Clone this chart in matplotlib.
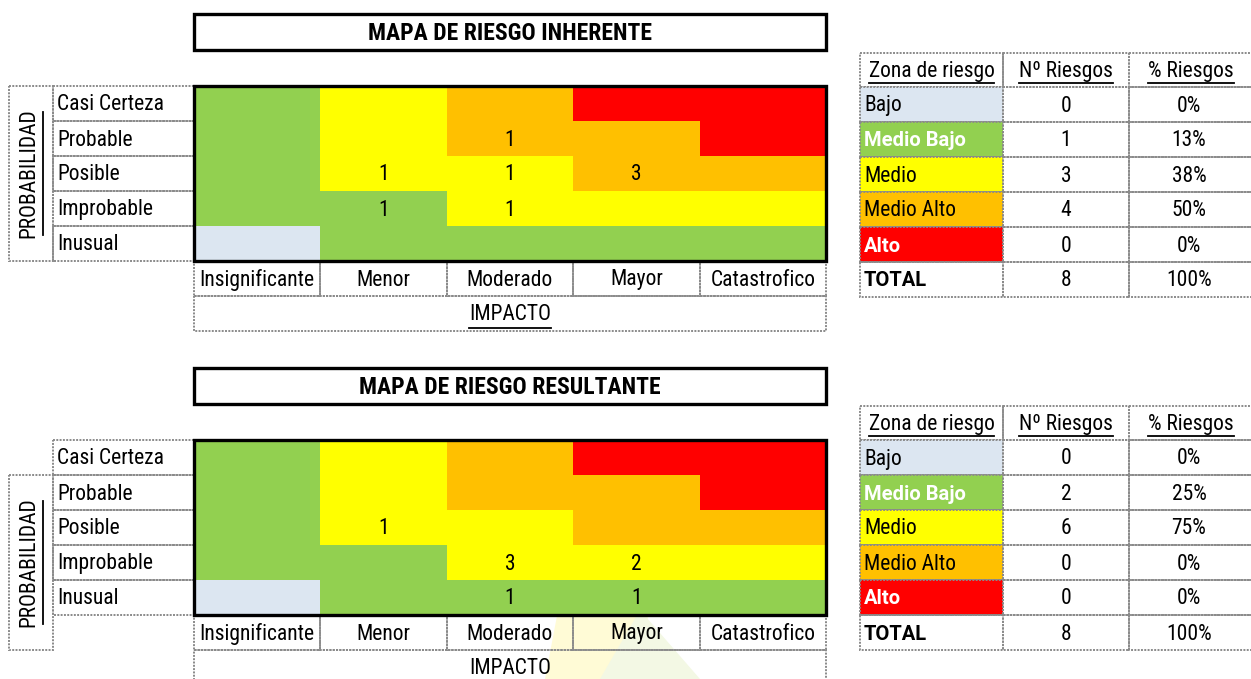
import matplotlib
matplotlib.use("Agg")
import matplotlib.pyplot as plt
from matplotlib.patches import Rectangle, Polygon

plt.rcParams['font.family'] = ['Roboto Condensed', 'DejaVu Sans']

# --- data -------------------------------------------------------------------
prob_labels = ['Casi Certeza', 'Probable', 'Posible', 'Improbable', 'Inusual']
impact_labels = ['Insignificante', 'Menor', 'Moderado', 'Mayor', 'Catastrofico']

zone_names = ['Bajo', 'Medio Bajo', 'Medio', 'Medio Alto', 'Alto']
zone_colors = ['#DCE6F1', '#92D050', '#FFFF00', '#FFC000', '#FF0000']
zone_text_colors = ['black', 'white', 'black', 'black', 'white']
zone_text_bold = [False, True, False, False, True]

# zone index of every cell (rows = probability, cols = impact)
zone_grid = [
    [1, 2, 3, 4, 4],
    [1, 2, 3, 3, 4],
    [1, 2, 2, 3, 3],
    [1, 1, 2, 2, 2],
    [0, 1, 1, 1, 1],
]

counts_inherente = [
    [0, 0, 0, 0, 0],
    [0, 0, 1, 0, 0],
    [0, 1, 1, 3, 0],
    [0, 1, 1, 0, 0],
    [0, 0, 0, 0, 0],
]
counts_resultante = [
    [0, 0, 0, 0, 0],
    [0, 0, 0, 0, 0],
    [0, 1, 0, 0, 0],
    [0, 0, 3, 2, 0],
    [0, 0, 1, 1, 0],
]

titles = ['MAPA DE RIESGO INHERENTE', 'MAPA DE RIESGO RESULTANTE']
table_headers = ['Zona de riesgo', 'Nº Riesgos', '% Riesgos']

# --- figure -----------------------------------------------------------------
W, H = 1251, 679
fig = plt.figure(figsize=(12.51, 6.79), dpi=100)
ax = fig.add_axes([0, 0, 1, 1])
ax.set_xlim(0, W)
ax.set_ylim(H, 0)
ax.axis('off')

FS = 15.5
FS_TITLE = 17
DY = 1.5          # small downward nudge so text sits like Excel's
DOT_EC = '#8a8a8a'
DOT_LS = (0, (1, 0.7))
RH = 35
GX0, GX1 = 194, 826
CW = (GX1 - GX0) / 5


def cell(x0, y0, w, h, fc='none', z=2):
    ax.add_patch(Rectangle((x0, y0), w, h, facecolor=fc, edgecolor=DOT_EC,
                           lw=1.4, ls=DOT_LS, zorder=z))


def underline(txt, vertical=False, gap=2):
    fig.canvas.draw()
    bb = txt.get_window_extent(renderer=fig.canvas.get_renderer())
    inv = ax.transData.inverted()
    (x0, y0), (x1, y1) = inv.transform([(bb.x0, bb.y0), (bb.x1, bb.y1)])
    if vertical:
        ax.plot([x1 + gap, x1 + gap], [y0 - 3, y1 + 3], color='black', lw=1.3, zorder=4)
    else:
        ax.plot([x0, x1], [y0 + gap, y0 + gap], color='black', lw=1.3, zorder=4)


def draw_map(top, title, counts, prob_row, impacto_ul):
    # title box
    ax.add_patch(Rectangle((GX0, top - 72), GX1 - GX0, 36, facecolor='white',
                           edgecolor='black', lw=2.4, zorder=3))
    ax.text((GX0 + GX1) / 2, top - 54 + DY, title, ha='center', va='center',
            fontsize=FS_TITLE, fontweight='bold', zorder=4)
    # coloured grid
    for i, row in enumerate(zone_grid):
        for j, z in enumerate(row):
            ax.add_patch(Rectangle((GX0 + j * CW, top + i * RH), CW, RH,
                                   facecolor=zone_colors[z], edgecolor='none', zorder=1))
            if counts[i][j]:
                ax.text(GX0 + (j + 0.5) * CW, top + (i + 0.5) * RH + DY, str(counts[i][j]),
                        ha='center', va='center', fontsize=FS, zorder=4)
    ax.add_patch(Rectangle((GX0, top), GX1 - GX0, 5 * RH, facecolor='none',
                           edgecolor='black', lw=2.4, zorder=5))
    # probability labels
    for i, lab in enumerate(prob_labels):
        cell(53, top + i * RH, GX0 - 53, RH)
        ax.text(57, top + (i + 0.5) * RH + DY, lab, ha='left', va='center',
                fontsize=FS, zorder=4)
    py = top + prob_row * RH
    cell(9, py, 44, 5 * RH)
    t = ax.text(29, py + 2.5 * RH, 'PROBABILIDAD', ha='center', va='center',
                rotation=90, fontsize=FS, zorder=4)
    underline(t, vertical=True, gap=3)
    # impact labels
    for j, lab in enumerate(impact_labels):
        cell(GX0 + j * CW, top + 5 * RH, CW, RH)
        ax.text(GX0 + (j + 0.5) * CW, top + 5.5 * RH + DY, lab, ha='center', va='center',
                fontsize=FS, zorder=4)
    cell(GX0, top + 6 * RH, GX1 - GX0, RH)
    t = ax.text((GX0 + GX1) / 2, top + 6.5 * RH + DY, 'IMPACTO', ha='center', va='center',
                fontsize=FS, zorder=4)
    if impacto_ul:
        underline(t, gap=2)


def draw_table(top, counts):
    xs = [860, 1003, 1129, 1253]
    zone_n = [0] * len(zone_names)
    for i, row in enumerate(zone_grid):
        for j, z in enumerate(row):
            zone_n[z] += counts[i][j]
    total = sum(zone_n)
    pcts = [int(100 * n / total + 0.5) for n in zone_n]

    hy = top - 34
    for k, lab in enumerate(table_headers):
        cell(xs[k], hy, xs[k + 1] - xs[k], 34)
        t = ax.text((xs[k] + xs[k + 1]) / 2, hy + 17 + DY, lab, ha='center', va='center',
                    fontsize=FS, zorder=4)
        underline(t, gap=1)
    rows = [(zone_names[k], zone_n[k], pcts[k], zone_colors[k],
             zone_text_colors[k], zone_text_bold[k]) for k in range(len(zone_names))]
    rows.append(('TOTAL', total, 100, 'none', 'black', True))
    for r, (name, n, p, fc, tc, bold) in enumerate(rows):
        y = top + r * RH + RH / 2 + DY
        cell(xs[0], top + r * RH, xs[1] - xs[0], RH, fc=fc)
        cell(xs[1], top + r * RH, xs[2] - xs[1], RH)
        cell(xs[2], top + r * RH, xs[3] - xs[2], RH)
        if bold:
            ax.text(xs[0] + 4, y, name, ha='left', va='center', fontsize=FS - 1,
                    color=tc, fontweight='bold', family=['Roboto', 'DejaVu Sans'], zorder=4)
        else:
            ax.text(xs[0] + 4, y, name, ha='left', va='center', fontsize=FS,
                    color=tc, zorder=4)
        ax.text((xs[1] + xs[2]) / 2, y, str(n), ha='center', va='center',
                fontsize=FS, zorder=4)
        ax.text((xs[2] + xs[3]) / 2 - 2, y, f'{p}%', ha='center', va='center',
                fontsize=FS, zorder=4)


# faint watermark behind the lower map
ax.add_patch(Polygon([(545, 679), (560, 600), (610, 585), (650, 600), (640, 679)],
                     closed=True, facecolor='#FFFBD6', edgecolor='none', zorder=0))
ax.add_patch(Polygon([(600, 679), (640, 610), (700, 679)],
                     closed=True, facecolor='#F3F8E4', edgecolor='none', zorder=0))

draw_map(86, titles[0], counts_inherente, 0, True)
draw_table(87, counts_inherente)
draw_map(440, titles[1], counts_resultante, 1, False)
draw_table(440, counts_resultante)

fig.savefig('out.png', dpi=100)
